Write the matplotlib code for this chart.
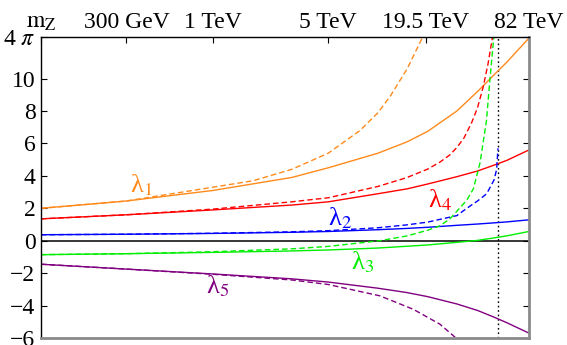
import numpy as np
import matplotlib
matplotlib.use("Agg")
import matplotlib.pyplot as plt

plt.rcParams['mathtext.fontset'] = 'stix'
plt.rcParams['font.family'] = ['Liberation Serif', 'DejaVu Serif']

# ---------------- data (energy in GeV) ----------------
E_GRID = [91.19, 300, 1000, 3000, 5000, 10000, 15000, 20000, 30000, 40000, 50000, 60000, 82000]

lam1_solid = [2.0, 2.45, 3.1, 3.9, 4.5, 5.4, 6.1, 6.75, 8.0, 9.2, 10.2, 11.0, 12.5]
lam1_dash_E = [91.19, 300, 1000, 1753, 3000, 5000, 7780, 10000, 11830, 15000, 18700]
lam1_dash = [2.0, 2.45, 3.3, 3.7, 4.4, 5.4, 6.8, 7.9, 8.9, 10.6, 12.6]

lam4_solid = [1.35, 1.6, 1.9, 2.2, 2.4, 2.9, 3.2, 3.5, 3.95, 4.3, 4.65, 4.95, 5.6]
lam4_dash_E = [91.19, 300, 1000, 3000, 5000, 10000, 15000, 20000, 23700, 27250,
               30000, 33180, 36920, 40000, 43350, 46300, 49400]
lam4_dash = [1.35, 1.6, 1.95, 2.4, 2.65, 3.35, 3.9, 4.42, 4.85, 5.3,
             5.75, 6.35, 7.3, 8.2, 9.5, 10.9, 12.6]

lam2_solid = [0.37, 0.4, 0.45, 0.52, 0.57, 0.68, 0.76, 0.83, 0.95, 1.03, 1.1, 1.16, 1.29]
lam2_dash_E = [91.19, 300, 1000, 3000, 5000, 10000, 15000, 20000, 30000, 34440,
               40000, 45470, 50330, 52250, 53200]
lam2_dash = [0.37, 0.4, 0.46, 0.55, 0.62, 0.8, 0.98, 1.15, 1.55, 2.0,
             2.45, 2.9, 3.74, 4.4, 5.7]

lam3_solid = [-0.86, -0.8, -0.72, -0.63, -0.57, -0.45, -0.34, -0.26, -0.1, 0.02, 0.17, 0.3, 0.57]
lam3_dash_E = [91.19, 300, 1000, 3000, 5000, 10270, 15000, 20000, 23700, 27250,
               34440, 37760, 41420, 45330, 47600, 49650, 50720]
lam3_dash = [-0.86, -0.8, -0.68, -0.5, -0.35, 0.0, 0.3, 0.65, 0.92, 1.35,
             2.5, 3.2, 4.8, 7.4, 10.0, 12.0, 13.0]

lam5_solid = [-1.45, -1.75, -2.05, -2.35, -2.55, -2.93, -3.2, -3.45, -3.9, -4.3, -4.7, -5.05, -5.7]
lam5_dash_E = [91.19, 300, 1000, 3000, 5000, 10270, 16350, 23700, 29640, 33610]
lam5_dash = [-1.45, -1.75, -2.07, -2.42, -2.7, -3.4, -4.23, -5.15, -6.0, -6.6]

E_POLE = 53200

x_ticks = [91.19, 300, 1000, 5000, 19500, 82000]
x_labels = [r'$\mathrm{m}_\mathrm{Z}$', '300 GeV', '1 TeV', '5 TeV', '19.5 TeV', '82 TeV']
y_ticks = [-6, -4, -2, 0, 2, 4, 6, 8, 10, 4 * np.pi]
y_labels = ['\u22126', '\u22124', '\u22122', '0', '2', '4', '6', '8', '10', r'4 $\pi$']

labels = ['\u03bb$_1$', '\u03bb$_2$', '\u03bb$_3$', '\u03bb$_4$', '\u03bb$_5$']
label_E = [367, 5890, 8010, 23700, 1075]
label_y = [3.44, 1.41, -1.35, 2.5, -2.82]

C_OR = '#FF8A1C'
C_RED = '#FF0000'
C_BLUE = '#0000FF'
C_GREEN = '#00EE00'
C_PURP = '#800080'

# ---------------- figure ----------------
fig = plt.figure(figsize=(5.67, 3.45), dpi=100)
ax = fig.add_axes([41 / 567, 1 - 338 / 345, (529 - 41) / 567, (338 - 37) / 345])
ax.set_xscale('log')
ax.set_xlim(91.19, 82000)
ax.set_ylim(-6, 4 * np.pi)

dash = (0, (4.0, 2.2))
lw = 1.0

ax.axhline(0, color='black', lw=1.1, zorder=1)
ax.axvline(E_POLE, color='black', lw=1.0, ls=(0, (1.2, 2.0)), zorder=1)

ax.plot(E_GRID, lam1_solid, color=C_OR, lw=lw)
ax.plot(lam1_dash_E, lam1_dash, color=C_OR, lw=lw, ls=dash)
ax.plot(E_GRID, lam4_solid, color=C_RED, lw=lw)
ax.plot(lam4_dash_E, lam4_dash, color=C_RED, lw=lw, ls=dash)
ax.plot(E_GRID, lam2_solid, color=C_BLUE, lw=lw)
ax.plot(lam2_dash_E, lam2_dash, color=C_BLUE, lw=lw, ls=dash)
ax.plot(E_GRID, lam3_solid, color=C_GREEN, lw=lw)
ax.plot(lam3_dash_E, lam3_dash, color=C_GREEN, lw=lw, ls=dash)
ax.plot(E_GRID, lam5_solid, color=C_PURP, lw=lw)
ax.plot(lam5_dash_E, lam5_dash, color=C_PURP, lw=lw, ls=dash)

for txt, ex, ey, c in zip(labels, label_E, label_y, [C_OR, C_BLUE, C_GREEN, C_RED, C_PURP]):
    ax.text(ex, ey, txt, color=c, fontsize=19, ha='center', va='center')

# axes styling
ax.xaxis.tick_top()
ax.set_xticks(x_ticks)
ax.set_xticklabels(x_labels)
ax.minorticks_off()
ax.set_yticks(y_ticks)
ax.set_yticklabels(y_labels)
ax.tick_params(axis='x', which='both', direction='in', length=4, width=0.8,
               top=True, bottom=False, labeltop=True, labelbottom=False,
               labelsize=17, pad=3)
ax.tick_params(axis='y', which='both', direction='in', length=4, width=0.8,
               left=True, right=True, labelsize=17, pad=4)

for s in ['left', 'top']:
    ax.spines[s].set_color('black')
    ax.spines[s].set_linewidth(1.0)
for s in ['right', 'bottom']:
    ax.spines[s].set_color('#8a8a8a')
    ax.spines[s].set_linewidth(2.0)

fig.savefig('out.png', dpi=100)
